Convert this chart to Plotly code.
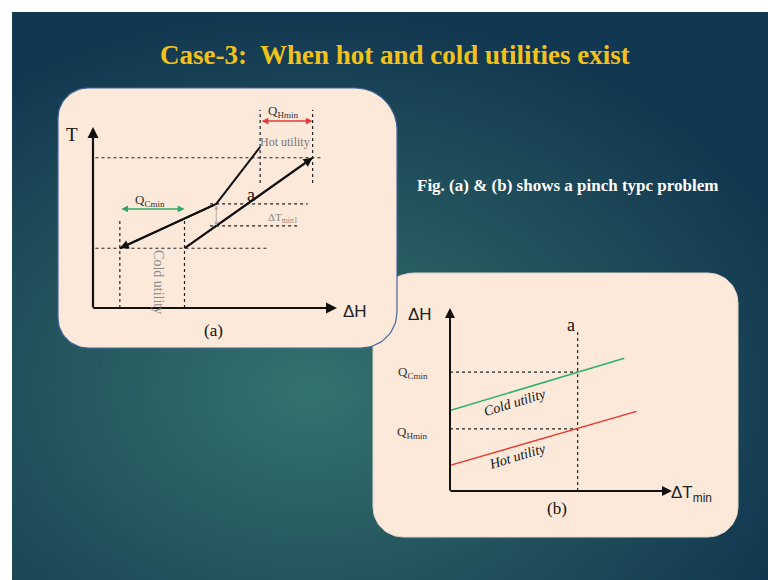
import numpy as np
import plotly.graph_objects as go

W, H = 768, 580

# ---------------- data: panel (a)  T vs dH ----------------
hot_a_x = [6.85, 5.05, 1.1]
hot_a_y = [8.9, 5.75, 3.3]
cold_a_x = [3.75, 9.0]
cold_a_y = [3.3, 8.3]
t_levels = [8.3, 5.75, 4.54, 3.3]          # dashed horizontal levels
h_levels = [1.1, 3.75, 6.85, 9.0]          # dashed vertical positions
qc_range = [1.1, 3.75]
qh_range = [6.85, 9.0]

# ---------------- data: panel (b)  dH vs dTmin ----------------
cold_b_x = [0, 7.85]
cold_b_y = [4.4, 7.25]
hot_b_x = [0, 8.4]
hot_b_y = [1.4, 4.35]
a_b = 5.75
qcmin_b = 6.5
qhmin_b = 3.4

SERIF = "Liberation Serif"
SANS = "Liberation Sans"
PANEL = "#fce9da"

fig = go.Figure()

# ---------------- background gradient ----------------
NX, NY = 80, 60
dx = (W - 12) / NX
dy = (H - 12) / NY
gx = np.linspace(12 + dx / 2, W - dx / 2, NX)
gy = np.linspace(12 + dy / 2, H - dy / 2, NY)
GX, GY = np.meshgrid(gx, gy)
d = np.sqrt(((GX - 310) / 520) ** 2 + ((GY - 390) / 380) ** 2)
z = np.clip(d, 0, 1)
fig.add_trace(go.Heatmap(x=gx, y=gy, z=z, zmin=0, zmax=1, zsmooth="best",
                         colorscale=[[0, "#34726f"], [0.45, "#25585f"], [1, "#123750"]],
                         showscale=False, hoverinfo="skip", xaxis="x", yaxis="y"))


def rrect(x0, y0, x1, y1, r):
    # r: radii for (tl, tr, br, bl)
    corners = [((x0 + r[0], y0 + r[0]), np.pi, 1.5 * np.pi, r[0]),
               ((x1 - r[1], y0 + r[1]), 1.5 * np.pi, 2 * np.pi, r[1]),
               ((x1 - r[2], y1 - r[2]), 0, 0.5 * np.pi, r[2]),
               ((x0 + r[3], y1 - r[3]), 0.5 * np.pi, np.pi, r[3])]
    xs, ys = [], []
    for (cx, cy), a0, a1, rr in corners:
        t = np.linspace(a0, a1, 20)
        xs += list(cx + rr * np.cos(t))
        ys += list(cy + rr * np.sin(t))
    xs.append(xs[0]); ys.append(ys[0])
    return xs, ys


bx, by = rrect(373, 273, 738, 537, (42, 30, 30, 30))
fig.add_trace(go.Scatter(x=bx, y=by, fill="toself", fillcolor=PANEL, mode="lines",
                         line=dict(color="#e2d6cc", width=1), hoverinfo="skip",
                         xaxis="x", yaxis="y", showlegend=False))
ax_, ay_ = rrect(58, 88, 397, 348, (30, 42, 36, 30))
fig.add_trace(go.Scatter(x=ax_, y=ay_, fill="toself", fillcolor=PANEL, mode="lines",
                         line=dict(color="#46679a", width=1.2), hoverinfo="skip",
                         xaxis="x", yaxis="y", showlegend=False))

# ---------------- panel (a) ----------------
def dash(x, y, xa, ya, color="#222", w=1.2):
    fig.add_trace(go.Scatter(x=x, y=y, mode="lines", line=dict(color=color, width=w, dash="3px,3px"),
                             hoverinfo="skip", showlegend=False, xaxis=xa, yaxis=ya))

dash([0.1, 9.4], [t_levels[0]] * 2, "x2", "y2")
dash([4.8, 8.8], [t_levels[1]] * 2, "x2", "y2")
dash([4.8, 8.4], [t_levels[2]] * 2, "x2", "y2")
dash([0.1, 7.2], [t_levels[3]] * 2, "x2", "y2")
dash([h_levels[0]] * 2, [0, 4.85], "x2", "y2")
dash([h_levels[1]] * 2, [0, 4.85], "x2", "y2")
dash([h_levels[2]] * 2, [6.9, 10.95], "x2", "y2")
dash([h_levels[3]] * 2, [6.9, 10.95], "x2", "y2")

fig.add_trace(go.Scatter(x=hot_a_x, y=hot_a_y, mode="lines", line=dict(color="#111", width=2),
                         hoverinfo="skip", showlegend=False, xaxis="x2", yaxis="y2"))
fig.add_trace(go.Scatter(x=cold_a_x, y=cold_a_y, mode="lines", line=dict(color="#111", width=2),
                         hoverinfo="skip", showlegend=False, xaxis="x2", yaxis="y2"))

ann = []


def arrow(x, y, axv, ayv, xr, yr, color="#111", w=2, side="end", head=2, size=1.0):
    ann.append(dict(x=x, y=y, ax=axv, ay=ayv, xref=xr, yref=yr, axref=xr, ayref=yr,
                    showarrow=True, arrowhead=head, arrowside=side, arrowsize=size,
                    arrowwidth=w, arrowcolor=color, text="", standoff=0, startstandoff=0,
                    startarrowhead=head, startarrowsize=size))


def label(x, y, text, xr, yr, size=14, color="#111", family=SERIF, angle=0, **kw):
    ann.append(dict(x=x, y=y, xref=xr, yref=yr, text=text, showarrow=False, textangle=angle,
                    font=dict(size=size, color=color, family=family), **kw))


# axes (a)
arrow(10.0, 0, -0.05, 0, "x2", "y2", w=2.2)
arrow(0, 10.0, 0, -0.05, "x2", "y2", w=2.2)
# curve arrowheads
arrow(hot_a_x[2], hot_a_y[2], hot_a_x[1], hot_a_y[1], "x2", "y2", w=2, size=0.9)
arrow(cold_a_x[1], cold_a_y[1], cold_a_x[0], cold_a_y[0], "x2", "y2", w=2, size=0.9)
# Q arrows
arrow(qc_range[1], 5.47, qc_range[0], 5.47, "x2", "y2", color="#2ea864", w=1.5, side="end+start", size=0.9)
arrow(qh_range[1], 10.33, qh_range[0], 10.33, "x2", "y2", color="#e23b3b", w=1.5, side="end+start", size=0.9)
arrow(5.05, t_levels[2], 5.05, t_levels[1], "x2", "y2", color="#aaaaaa", w=1, side="end+start", size=0.8)

label(-0.86, 9.56, "T", "x2", "y2", size=19)
label(10.74, -0.22, "ΔH", "x2", "y2", size=17, family=SANS, color="#222")
label(4.92, -1.22, "(a)", "x2", "y2", size=17)
label(6.48, 6.24, "a", "x2", "y2", size=18)
label(2.34, 5.95, "Q<sub>Cmin</sub>", "x2", "y2", size=13, color="#333")
label(7.79, 10.85, "Q<sub>Hmin</sub>", "x2", "y2", size=13, color="#333")
label(7.87, 9.17, "Hot utility", "x2", "y2", size=12, color="#777")
label(7.79, 4.97, "ΔT<sub>min1</sub>", "x2", "y2", size=11, color="#888")
label(2.66, 1.44, "Cold utility", "x2", "y2", size=14, color="#8a8a8a", angle=90)

# ---------------- panel (b) ----------------
dash([0, a_b], [qcmin_b] * 2, "x3", "y3")
dash([0, a_b], [qhmin_b] * 2, "x3", "y3")
dash([a_b] * 2, [0, 8.8], "x3", "y3")
fig.add_trace(go.Scatter(x=cold_b_x, y=cold_b_y, mode="lines", line=dict(color="#2fb36a", width=1.5),
                         hoverinfo="skip", showlegend=False, xaxis="x3", yaxis="y3"))
fig.add_trace(go.Scatter(x=hot_b_x, y=hot_b_y, mode="lines", line=dict(color="#e8382e", width=1.5),
                         hoverinfo="skip", showlegend=False, xaxis="x3", yaxis="y3"))
arrow(10.0, 0, -0.05, 0, "x3", "y3", w=2)
arrow(0, 10.0, 0, -0.05, "x3", "y3", w=2)

label(-1.35, 9.62, "ΔH", "x3", "y3", size=17, family=SANS, color="#222")
label(10.9, -0.15, "ΔT<sub>min</sub>", "x3", "y3", size=17, family=SANS, color="#222")
label(4.82, -0.93, "(b)", "x3", "y3", size=17)
label(5.45, 9.07, "a", "x3", "y3", size=18)
label(-1.67, qcmin_b, "Q<sub>Cmin</sub>", "x3", "y3", size=13, color="#333")
label(-1.71, 3.17, "Q<sub>Hmin</sub>", "x3", "y3", size=13, color="#333")
label(2.93, 4.81, "<i>Cold utility</i>", "x3", "y3", size=14, angle=-17)
label(3.02, 1.86, "<i>Hot utility</i>", "x3", "y3", size=14, angle=-17)

# ---------------- slide texts ----------------
label(395, 55, "<b>Case-3:  When hot and cold utilities exist</b>", "x", "y", size=27, color="#f2c21c")
label(567, 185, "<b>Fig. (a) &amp; (b) shows a pinch typc problem</b>", "x", "y", size=17, color="#ffffff")

# ---------------- axes layout ----------------
def dom(p0, p1, total, flip=False):
    if flip:
        return [1 - p1 / total, 1 - p0 / total]
    return [p0 / total, p1 / total]

A = dict(ox=93, oy=308, sx=24.4, sy=18.1, x0=58, x1=397, y0=88, y1=348)
B = dict(ox=450, oy=491, sx=22.2, sy=18.3, x0=373, x1=738, y0=273, y1=537)

hidden = dict(visible=False, showgrid=False, zeroline=False, fixedrange=True)
layout_axes = dict(
    xaxis=dict(domain=[0, 1], range=[0, W], **hidden),
    yaxis=dict(domain=[0, 1], range=[H, 0], **hidden),
)
for n, P in (("2", A), ("3", B)):
    layout_axes["xaxis" + n] = dict(domain=dom(P["x0"], P["x1"], W),
                                    range=[(P["x0"] - P["ox"]) / P["sx"], (P["x1"] - P["ox"]) / P["sx"]],
                                    anchor="y" + n, **hidden)
    layout_axes["yaxis" + n] = dict(domain=dom(P["y0"], P["y1"], H, flip=True),
                                    range=[(P["oy"] - P["y1"]) / P["sy"], (P["oy"] - P["y0"]) / P["sy"]],
                                    anchor="x" + n, **hidden)

fig.update_layout(width=W, height=H, margin=dict(l=0, r=0, t=0, b=0),
                  paper_bgcolor="white", plot_bgcolor="rgba(0,0,0,0)",
                  showlegend=False, annotations=ann, **layout_axes)

fig.write_html("out.html", config={"displayModeBar": False},
               post_script="document.body.style.margin='0';document.body.style.overflow='hidden';")
